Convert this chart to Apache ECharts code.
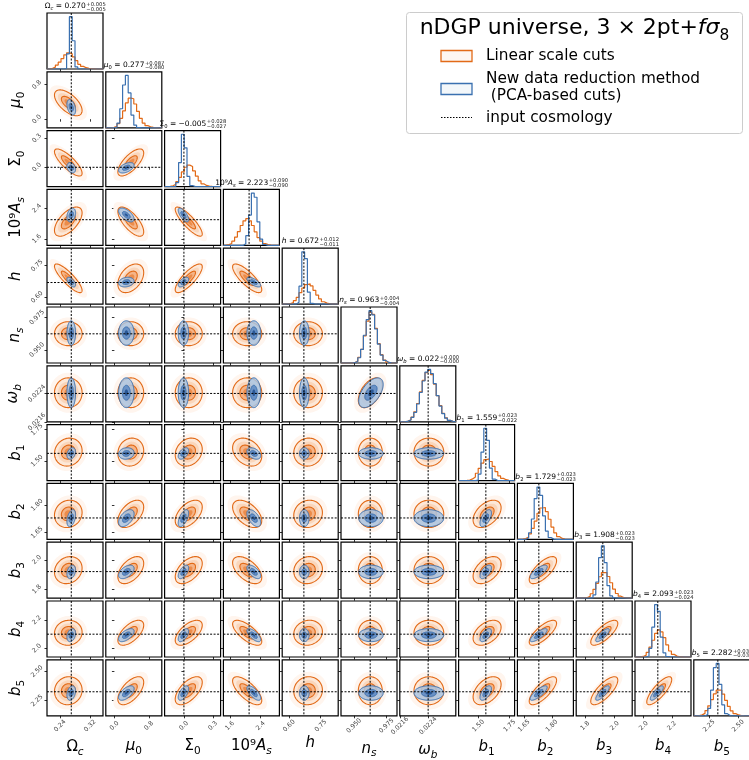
<!DOCTYPE html>
<html><head><meta charset="utf-8">
<script src="https://cdn.jsdelivr.net/npm/echarts@6/dist/echarts.min.js"></script>
<style>html,body{margin:0;padding:0;background:#fff}#c{width:749px;height:760px}</style>
</head><body><div id="c"></div><script>
// ---------------- data ----------------
const paramLabel = [
 [['Ω','n'],['c','si']],
 [['μ','i'],['0','s']],
 [['Σ','n'],['0','s']],
 [['10⁹','n'],['A','i'],['s','si']],
 [['h','i']],
 [['n','i'],['s','si']],
 [['ω','i'],['b','si']],
 [['b','i'],['1','s']],
 [['b','i'],['2','s']],
 [['b','i'],['3','s']],
 [['b','i'],['4','s']],
 [['b','i'],['5','s']]
];
const axisMin = [0.205,-0.2,-0.2,1.43,0.567,0.940,0.0216,1.342,1.614,1.739,1.939,2.12];
const axisMax = [0.355,1.1,0.38,2.89,0.833,0.983,0.02318,1.79,1.917,2.12,2.334,2.60];
const tickVals = [[0.24,0.32],[0.0,0.8],[0.0,0.3],[1.6,2.4],[0.60,0.75],[0.950,0.975],[0.0216,0.0224],[1.50,1.75],[1.65,1.80],[1.8,2.0],[2.0,2.2],[2.25,2.50]];
const tickText = [['0.24','0.32'],['0.0','0.8'],['0.0','0.3'],['1.6','2.4'],['0.60','0.75'],['0.950','0.975'],['0.0216','0.0224'],['1.50','1.75'],['1.65','1.80'],['1.8','2.0'],['2.0','2.2'],['2.25','2.50']];
const truth = [0.27,null,0.0,2.10,0.67,0.9624,0.0224,1.56,1.73,1.92,2.10,2.326];

const titleVal = ['0.270','0.277','−0.005','2.223','0.672','0.963','0.022','1.559','1.729','1.908','2.093','2.282'];
const titleUp  = ['0.005','0.087','0.028','0.090','0.012','0.004','0.000','0.023','0.023','0.023','0.023','0.031'];
const titleDn  = ['0.005','0.080','0.027','0.090','0.011','0.004','0.000','0.022','0.023','0.023','0.024','0.031'];

// linear scale cuts (orange) and PCA-based cuts (blue): centres and widths
const meanLin = [0.262,0.38,0.05,2.05,0.69,0.9625,0.02242,1.57,1.752,1.93,2.11,2.335];
const sigLin  = [0.0185,0.15,0.07,0.19,0.034,0.0046,0.00021,0.056,0.037,0.046,0.044,0.06];
const meanPCA = [0.270,0.277,-0.005,2.223,0.672,0.963,0.02242,1.559,1.729,1.918,2.093,2.315];
const sigPCA  = [0.0058,0.09,0.027,0.09,0.0115,0.0047,0.00021,0.023,0.023,0.023,0.023,0.031];

const corrLin = [
 [],
 [-0.6],
 [-0.8,0.7],
 [0.6,-0.7,-0.85],
 [-0.85,0.4,0.8,-0.8],
 [0,0,0,0,0],
 [0,0,0,0,0,0.5],
 [0.1,0.1,0.2,-0.3,0.05,0,0],
 [0.1,0.5,0.5,-0.5,0.1,0,0,0.45],
 [0.15,0.5,0.5,-0.55,0.1,0,0,0.45,0.7],
 [0.05,0.6,0.6,-0.7,0.1,0,0,0.45,0.75,0.75],
 [0.05,0.6,0.6,-0.7,0.05,0,0,0.45,0.75,0.75,0.8]
];
const corrPCA = [
 [],
 [-0.4],
 [-0.3,0.5],
 [0.3,-0.6,-0.7],
 [-0.6,0.2,0.6,-0.7],
 [0,0,0,0,0],
 [0,0,0,0,0,0.55],
 [0.3,0.1,0.5,-0.4,0,0,0],
 [0.4,0.5,0.6,-0.55,0,0,0,0.6],
 [0.3,0.5,0.6,-0.6,0,0,0,0.6,0.75],
 [0.3,0.6,0.6,-0.7,0,0,0,0.6,0.8,0.8],
 [0.3,0.6,0.6,-0.7,0,0,0,0.6,0.8,0.8,0.8]
];

// 1D histograms, 20 bins across each axis range
const histLin = [
 [0.5,1.5,3.5,7.5,13,20,27,31,29,23,16,9,5,2.5,1.2,0.6,0.3,0,0,0],
 [0,0,1,3,8,18,32,47,56,55,45,31,18,9,4,2,1,0.5,0,0],
 [0,0.5,1.6,4.3,9.5,17.6,28,37,41,38.5,30,20,11,5.3,2.2,0.8,0.3,0,0,0],
 [0.5,1.4,3.6,8,16,26.5,38,47,51,47,38,26,15,8,3.6,1.4,0.5,0.2,0,0],
 [0,0.4,1.2,3,7,13,22,31,37.5,39,35,26.5,17.5,10,4.7,2,0.7,0.2,0,0],
 [0,0,0,0,1,3.5,11,26,52,80,97,93,66,37,16,5.5,1.5,0.3,0,0],
 [0,0,1.5,4,9,19,35,57,79,94,98,90,72,50,31,16,7.5,3,1,0.3],
 [0,0,0.4,1.2,3.2,7,14,23.5,33.5,40,41.5,36.5,27,17,9,4.3,1.7,0.6,0.2,0],
 [0,0.5,1.6,4.3,10.5,21,35,50,60,61,53,38.5,23.5,12.4,5.4,1.9,0.6,0.2,0,0],
 [0,0,0.5,1.3,3.5,8.5,17,28.5,41,49,49,41.5,29.5,17.5,9,3.8,1.4,0.4,0,0],
 [0,0.3,1.1,3.5,9,19,32,45,52,48,37,23,11.5,5,1.7,0.5,0.2,0,0,0],
 [0,0.6,1.8,4.6,10,19,31,42,49,49,41.5,29.5,18,9.5,4.2,1.6,0.5,0.2,0,0]
];
const histPCA = [
 [0,0,0,0,0,0,1,29,100,54,4,0,0,0,0,0,0,0,0,0],
 [0,0,0,1,9,36,81,99,66,24,5,0.5,0,0,0,0,0,0,0,0],
 [0,0,0,0,7.5,46,100,74,19.5,2,0,0,0,0,0,0,0,0,0,0],
 [0,0,0,0,0,0,0,3,18.5,58,100,92,45,12,1.7,0,0,0,0,0],
 [0,0,0,0,0,3.5,34.5,100,87,23,1.7,0,0,0,0,0,0,0,0,0],
 [0,0,0,0,0.7,3,10,26,53,83,100,92,65,36,15,5,1.2,0.2,0,0],
 [0,0,1.2,3.4,8.3,18,34,56,78,95,100,92,73,50,30,15.5,7,2.7,0.9,0.3],
 [0,0,0,0,0,0,1,12.5,54.5,100,77,24,3,0,0,0,0,0,0,0],
 [0,0,0.3,2.6,12.7,39,78,100,84,45,16,3.6,0.5,0,0,0,0,0,0,0],
 [0,0,0,0,0,0.6,6.5,31,77.5,100,68,24,4.4,0.5,0,0,0,0,0,0],
 [0,0,0,0,2,16.5,57,100,87,38,8,1,0,0,0,0,0,0,0,0],
 [0,0,0,0,2.4,14,49,92,100,60,21,4,0.5,0,0,0,0,0,0,0]
];

// ---------------- style / layout ----------------
const FONT = 'DejaVu Sans';
const ORANGE = '#e26a17';
const BLUE = '#3a70b0';
const N = 12, L0 = 47, T0 = 13, P = 58.8, S = 56;

function richStyles(size, color) {
  const sub = size * 0.7;
  const base = {fontFamily: FONT, color: color || '#000'};
  return {
    n: Object.assign({}, base, {fontSize: size, lineHeight: size * 1.2, verticalAlign: 'top'}),
    i: Object.assign({}, base, {fontSize: size, lineHeight: size * 1.2, verticalAlign: 'top', fontStyle: 'italic'}),
    s: Object.assign({}, base, {fontSize: sub, lineHeight: sub, padding: [size * 0.72, 0, 0, 0], verticalAlign: 'bottom'}),
    si: Object.assign({}, base, {fontSize: sub, lineHeight: sub, padding: [size * 0.72, 0, 0, 0], verticalAlign: 'bottom', fontStyle: 'italic'})
  };
}
function richStr(parts) { return parts.map(p => '{' + p[1] + '|' + p[0] + '}').join(''); }

const mctx = document.createElement('canvas').getContext('2d');
function tw(t, size, italic) { mctx.font = (italic ? 'italic ' : '') + size + 'px "' + FONT + '"'; return mctx.measureText(t).width; }
function partsWidth(parts, size) {
  let w = 0;
  parts.forEach(p => { const sub = p[1] === 's' || p[1] === 'si'; w += tw(p[0], sub ? size * 0.7 : size, p[1] === 'i' || p[1] === 'si'); });
  return w;
}

const grids = [], xAxes = [], yAxes = [], series = [], graphics = [];

function labelFmt(k) {
  return function (v) {
    for (let q = 0; q < tickVals[k].length; q++) if (Math.abs(v - tickVals[k][q]) < 1e-9) return tickText[k][q];
    return '';
  };
}

function ellipse(api, mx, my, sx, sy, rho, k) {
  const pts = [];
  const r = Math.sqrt(Math.max(0, 1 - rho * rho));
  for (let a = 0; a < 90; a++) {
    const t = a / 90 * 2 * Math.PI, c = Math.cos(t), s = Math.sin(t);
    pts.push(api.coord([mx + k * sx * c, my + k * sy * (rho * c + r * s)]));
  }
  return pts;
}

let g = 0;
for (let i = 0; i < N; i++) {
  for (let j = 0; j <= i; j++) {
    const diag = i === j;
    grids.push({left: L0 + j * P, top: T0 + i * P, width: S, height: S, show: true,
      borderColor: '#000', borderWidth: 1.2, backgroundColor: '#fff', containLabel: false, outerBoundsMode: 'none'});
    const bottom = i === N - 1, left = j === 0 && !diag;
    xAxes.push({
      gridIndex: g, type: 'value', min: axisMin[j], max: axisMax[j],
      axisLine: {show: false}, splitLine: {show: false},
      axisTick: {show: true, length: 2.5, customValues: tickVals[j], lineStyle: {color: '#000', width: 0.8}},
      axisLabel: {show: bottom, customValues: tickVals[j], formatter: labelFmt(j), rotate: 45,
        fontSize: 6.3, fontFamily: FONT, color: '#444', margin: 10, align: 'center', verticalAlign: 'middle'},
      name: bottom ? richStr(paramLabel[j]) : '', nameLocation: 'middle', nameGap: 20,
      nameTextStyle: {rich: richStyles(15)}
    });
    if (diag) {
      const mx = Math.max(Math.max.apply(null, histLin[i]), Math.max.apply(null, histPCA[i]));
      yAxes.push({gridIndex: g, type: 'value', min: 0, max: mx * 1.07, show: false});
    } else {
      yAxes.push({
        gridIndex: g, type: 'value', min: axisMin[i], max: axisMax[i],
        axisLine: {show: false}, splitLine: {show: false},
        axisTick: {show: true, length: 2.5, customValues: tickVals[i], lineStyle: {color: '#000', width: 0.8}},
        axisLabel: {show: left, customValues: tickVals[i], formatter: labelFmt(i), rotate: 45,
          fontSize: 6.3, fontFamily: FONT, color: '#444', margin: 10, align: 'center', verticalAlign: 'middle'},
        name: left ? richStr(paramLabel[i]) : '', nameLocation: 'middle', nameGap: 20, nameRotate: 90,
        nameTextStyle: {rich: richStyles(15)}
      });
    }

    if (diag) {
      const k = i;
      const mk = (h) => {
        const w = (axisMax[k] - axisMin[k]) / h.length;
        const d = [[axisMin[k], 0]];
        for (let b = 0; b < h.length; b++) d.push([axisMin[k] + b * w, h[b]]);
        d.push([axisMax[k], h[h.length - 1]]);
        d.push([axisMax[k], 0]);
        return d;
      };
      series.push({type: 'line', xAxisIndex: g, yAxisIndex: g, step: 'end', symbol: 'none', silent: true,
        data: mk(histLin[k]), lineStyle: {color: ORANGE, width: 1.2}, z: 2});
      series.push({type: 'line', xAxisIndex: g, yAxisIndex: g, step: 'end', symbol: 'none', silent: true,
        data: mk(histPCA[k]), lineStyle: {color: BLUE, width: 1.2}, z: 3});
      if (truth[k] != null) {
        series.push({type: 'custom', xAxisIndex: g, yAxisIndex: g, z: 4, silent: true, data: [[truth[k], 0]],
          renderItem: function (params, api) {
            const cs = params.coordSys; const p = api.coord([api.value(0), 0]);
            return {type: 'line', shape: {x1: p[0], y1: cs.y, x2: p[0], y2: cs.y + cs.height},
              style: {stroke: '#000', lineWidth: 1, lineDash: [2, 1.5]}};
          }});
      }
      // title above the diagonal panel
      const size = 7.5;
      const mainParts = paramLabel[k].concat([[' = ' + titleVal[k], 'n']]);
      const wMain = partsWidth(mainParts, size);
      const wStack = Math.max(tw('+' + titleUp[k], size * 0.7), tw('−' + titleDn[k], size * 0.7));
      const cx = L0 + j * P + S / 2;
      const x0 = cx - (wMain + wStack) / 2;
      const ty = T0 + i * P;
      graphics.push({type: 'text', z: 100, style: {text: richStr(mainParts), x: x0, y: ty - 6.2,
        rich: richStyles(size, '#222'), align: 'left', verticalAlign: 'middle'}});
      graphics.push({type: 'text', z: 100, style: {text: '+' + titleUp[k], x: x0 + wMain + 0.5, y: ty - 8.6,
        fontSize: size * 0.7, fontFamily: FONT, fill: '#222', align: 'left', verticalAlign: 'middle'}});
      graphics.push({type: 'text', z: 100, style: {text: '−' + titleDn[k], x: x0 + wMain + 0.5, y: ty - 3.8,
        fontSize: size * 0.7, fontFamily: FONT, fill: '#222', align: 'left', verticalAlign: 'middle'}});
    } else {
      const xi = j, yi = i;
      series.push({type: 'custom', xAxisIndex: g, yAxisIndex: g, silent: true, clip: true, z: 2,
        data: [[meanLin[xi], meanLin[yi], meanPCA[xi], meanPCA[yi]]],
        renderItem: function (params, api) {
          const cs = params.coordSys;
          const ch = [];
          const mxL = api.value(0), myL = api.value(1), mxP = api.value(2), myP = api.value(3);
          const rL = corrLin[yi][xi], rP = corrPCA[yi][xi];
          const sxL = sigLin[xi], syL = sigLin[yi], sxP = sigPCA[xi], syP = sigPCA[yi];
          const poly = (pts, style) => ({type: 'polygon', shape: {points: pts}, style: style});
          [[2.7, '#fff5ee'], [2.0, '#fde8d8'], [1.5, '#fad6bb'], [1.0, '#f5b487'], [0.55, '#ec8c4a']].forEach(l => {
            ch.push(poly(ellipse(api, mxL, myL, sxL, syL, rL, l[0]), {fill: l[1], stroke: null}));
          });
          [2.0, 1.0].forEach(kk => ch.push(poly(ellipse(api, mxL, myL, sxL, syL, rL, kk), {fill: null, stroke: ORANGE, lineWidth: 1.1})));
          ch.push(poly(ellipse(api, mxP, myP, sxP, syP, rP, 2.0), {fill: 'rgba(170,196,226,0.85)', stroke: BLUE, lineWidth: 1}));
          ch.push(poly(ellipse(api, mxP, myP, sxP, syP, rP, 1.0), {fill: 'rgba(96,140,196,0.9)', stroke: BLUE, lineWidth: 1}));
          ch.push(poly(ellipse(api, mxP, myP, sxP, syP, rP, 0.45), {fill: '#2a5896', stroke: null}));
          if (truth[xi] != null) {
            const p = api.coord([truth[xi], axisMin[yi]]);
            ch.push({type: 'line', shape: {x1: p[0], y1: cs.y, x2: p[0], y2: cs.y + cs.height}, style: {stroke: '#000', lineWidth: 1, lineDash: [2, 1.5]}});
          }
          if (truth[yi] != null) {
            const p = api.coord([axisMin[xi], truth[yi]]);
            ch.push({type: 'line', shape: {x1: cs.x, y1: p[1], x2: cs.x + cs.width, y2: p[1]}, style: {stroke: '#000', lineWidth: 1, lineDash: [2, 1.5]}});
          }
          return {type: 'group', children: ch};
        }});
    }
    g++;
  }
}

// ---------------- legend box ----------------
graphics.push({type: 'rect', z: 50, shape: {x: 406.5, y: 12.5, width: 336, height: 121, r: 3}, style: {fill: '#fff', stroke: '#cccccc', lineWidth: 1}});
graphics.push({type: 'text', z: 51, style: {text: '{n|nDGP universe, 3 × 2pt+}{i|fσ}{s|8}', x: 574.5, y: 30, align: 'center', verticalAlign: 'middle', rich: richStyles(22)}});
graphics.push({type: 'rect', z: 51, shape: {x: 441, y: 50.5, width: 31, height: 11}, style: {fill: 'rgba(226,106,23,0.06)', stroke: ORANGE, lineWidth: 1.3}});
graphics.push({type: 'text', z: 51, style: {text: 'Linear scale cuts', x: 486, y: 56, fontSize: 15.3, fontFamily: FONT, fill: '#000', align: 'left', verticalAlign: 'middle'}});
graphics.push({type: 'rect', z: 51, shape: {x: 441, y: 83.5, width: 31, height: 11}, style: {fill: 'rgba(58,112,176,0.06)', stroke: BLUE, lineWidth: 1.3}});
graphics.push({type: 'text', z: 51, style: {text: 'New data reduction method', x: 486, y: 79, fontSize: 15.3, fontFamily: FONT, fill: '#000', align: 'left', verticalAlign: 'middle'}});
graphics.push({type: 'text', z: 51, style: {text: ' (PCA-based cuts)', x: 486, y: 96, fontSize: 15.3, fontFamily: FONT, fill: '#000', align: 'left', verticalAlign: 'middle'}});
graphics.push({type: 'line', z: 51, shape: {x1: 441, y1: 117.5, x2: 472, y2: 117.5}, style: {stroke: '#000', lineWidth: 1, lineDash: [1.5, 1.5]}});
graphics.push({type: 'text', z: 51, style: {text: 'input cosmology', x: 486, y: 118, fontSize: 15.3, fontFamily: FONT, fill: '#000', align: 'left', verticalAlign: 'middle'}});

const chart = echarts.init(document.getElementById('c'), null, {renderer: 'canvas'});
chart.setOption({
  animation: false,
  backgroundColor: '#fff',
  grid: grids, xAxis: xAxes, yAxis: yAxes, series: series, graphic: graphics
});
</script></body></html>
